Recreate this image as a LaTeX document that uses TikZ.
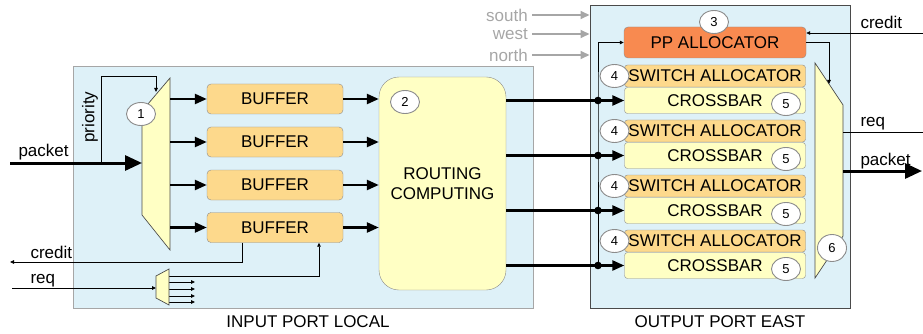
\documentclass[tikz,border=0pt]{standalone}
\usepackage{fontspec}
\setmainfont{Liberation Sans}
\usetikzlibrary{arrows.meta,shapes.geometric}

\definecolor{portblue}{HTML}{DEF1F8}
\definecolor{bufferorange}{HTML}{FDD98C}
\definecolor{paleyellow}{HTML}{FFFFC4}
\definecolor{pporange}{HTML}{F88A50}
\definecolor{edgegray}{HTML}{8C8C8C}
\definecolor{darkedge}{HTML}{4A4A4A}
\definecolor{labelgray}{HTML}{A6A6A6}

\tikzset{
	port/.style={draw=labelgray, fill=portblue, line width=1pt, inner sep=0pt},
	buffer/.style={draw=edgegray, fill=bufferorange, rounded corners=4pt, minimum width=136pt, minimum height=30pt, inner sep=1pt},
	routing/.style={draw=edgegray, fill=paleyellow, rounded corners=20pt, minimum width=127pt, minimum height=213pt, align=center, inner sep=1pt},
	ppalloc/.style={draw=edgegray, fill=pporange, rounded corners=4pt, minimum width=182pt, minimum height=31pt, inner sep=1pt},
	swalloc/.style={draw=edgegray, fill=bufferorange, rounded corners=3pt, minimum width=181pt, minimum height=22pt, inner sep=1pt},
	xbar/.style={draw=edgegray, fill=paleyellow, rounded corners=3pt, minimum width=181pt, minimum height=26pt, inner sep=1pt},
	tag/.style={ellipse, draw=edgegray, line width=0.9pt, fill=white, minimum width=29pt, minimum height=23pt, inner sep=0pt, font=\fontsize{13}{13}\selectfont},
	mux/.style={draw=darkedge, fill=paleyellow, line width=0.7pt},
	sig/.style={line width=0.8pt, -{Triangle[length=4pt,width=3.5pt]}},
	bus/.style={line width=2.5pt, -{Triangle[length=12pt,width=10pt]}},
	bigbus/.style={line width=3pt, -{Triangle[length=17pt,width=15pt]}},
	graylabel/.style={text=labelgray, inner xsep=4pt, inner ysep=0pt},
	grayarrow/.style={draw=labelgray, line width=2pt, -{Triangle[length=9pt,width=8pt]}}
}

\begin{document}
\begin{tikzpicture}[x=1pt, y=-1pt, font=\fontsize{17}{20}\selectfont]
	\useasboundingbox (0,0) rectangle (923,334);
	\node [port, minimum width=460pt, minimum height=241pt](inport) at (303,187.5) {};
	\node [port, draw=darkedge, minimum width=260pt, minimum height=302pt](outport) at (720,157) {};
	\node [anchor=base](inlabel) at (308,327) {INPUT PORT LOCAL};
	\node [anchor=base](outlabel) at (720,327) {OUTPUT PORT EAST};

	\coordinate (dmxl) at (142,111);
	\coordinate (dmxr) at (170,78);
	\draw [mux](dmxl) -- (dmxr) -- (170,250) -- (142,215) -- cycle;
	\node [tag](t1) at (141,114) {1};

	\coordinate (pktL) at (10,163);
	\draw [bigbus](pktL) -- (pktL -| dmxl);
	\node [anchor=base west](pktLlbl) at (15,157) {packet};
	\coordinate (prio) at (101,163);
	\coordinate (priotop) at (156,76);
	\coordinate (prioin) at (156,92);
	\draw [sig](prio) |- (priotop) -- (prioin);
	\node [rotate=90](priolbl) at (90,117) {priority};

	\foreach \i/\y in {1/99,2/142,3/185,4/227.5}{
		\node [buffer](buf\i) at (275,\y) {BUFFER};
		\draw [bus](buf\i.west -| dmxr) -- (buf\i.west);
	}

	\node [routing](rc) at (442.5,183.5) {ROUTING\\COMPUTING};
	\foreach \i in {1,...,4}
		\draw [bus](buf\i.east) -- (buf\i.east -| rc.west);
	\node [tag](t2) at (405,102) {2};

	\coordinate (crL) at (10,262);
	\draw [sig]([xshift=-33pt]buf4.south) |- (crL);
	\node [anchor=base west](crLlbl) at (27,258) {credit};
	\coordinate (smuxl) at (156,276);
	\coordinate (smuxr) at (169,276);
	\coordinate (reqL) at (12,288);
	\draw [sig](reqL) -- (reqL -| smuxl);
	\node [anchor=base west](reqLlbl) at (27,283) {req};
	\draw [sig](smuxr) -| ([xshift=44pt]buf4.south);
	\foreach \d in {6,13,20,26}
		\draw [sig]([yshift=-\d pt]smuxr) -- ++(26,0);
	\draw [mux](smuxl) -- (169,269) -- (169,305) -- (156,298) -- cycle;

	\foreach \n/\y in {south/15,west/34,north/55}{
		\node [graylabel, anchor=east](in\n) at (532,\y) {\n};
		\draw [grayarrow](in\n.east) -- (in\n.east -| outport.west);
	}

	\node [ppalloc](pp) at (715,42.5) {PP ALLOCATOR};
	\node [tag](t3) at (714,22) {3};

	\foreach \i/\ys/\yx in {1/76/100.5,2/131/155.5,3/186/210.5,4/241/265.5}{
		\node [swalloc](sa\i) at (715,\ys) {SWITCH ALLOCATOR};
		\node [xbar](xb\i) at (715,\yx) {CROSSBAR};
		\node [tag](tsa\i) at (614.5,\ys) {4};
		\node [tag](txb\i) at (786,\yx+3.5) {5};
		\coordinate (tap\i) at (598,\yx);
	}
	\draw [sig](tap4) -- (tap1) |- (pp.west);
	\foreach \i in {1,...,4}{
		\draw [bus](tap\i -| rc.east) -- (xb\i.west);
		\fill (tap\i) circle (3.8pt);
	}

	\coordinate (m6tl) at (815,63);
	\coordinate (m6r) at (843,105);
	\draw [mux](m6tl) -- (m6r) -- (843,236) -- (815,278) -- cycle;
	\node [tag, minimum height=27pt](t6) at (832,248) {6};
	\coordinate (m6in) at (829,84);
	\draw [sig](pp.east) -| (m6in);

	\coordinate (crR) at (923,33);
	\draw [sig](crR) -- (crR -| pp.east);
	\node [anchor=base west](crRlbl) at (857,29) {credit};
	\coordinate (reqR) at (923,132);
	\draw [line width=0.8pt](reqR -| m6r) -- (reqR);
	\node [anchor=base west](reqRlbl) at (857,127) {req};
	\coordinate (pktR) at (922,171);
	\draw [bigbus](pktR -| m6r) -- (pktR);
	\node [anchor=base west](pktRlbl) at (857,165) {packet};
\end{tikzpicture}
\end{document}
